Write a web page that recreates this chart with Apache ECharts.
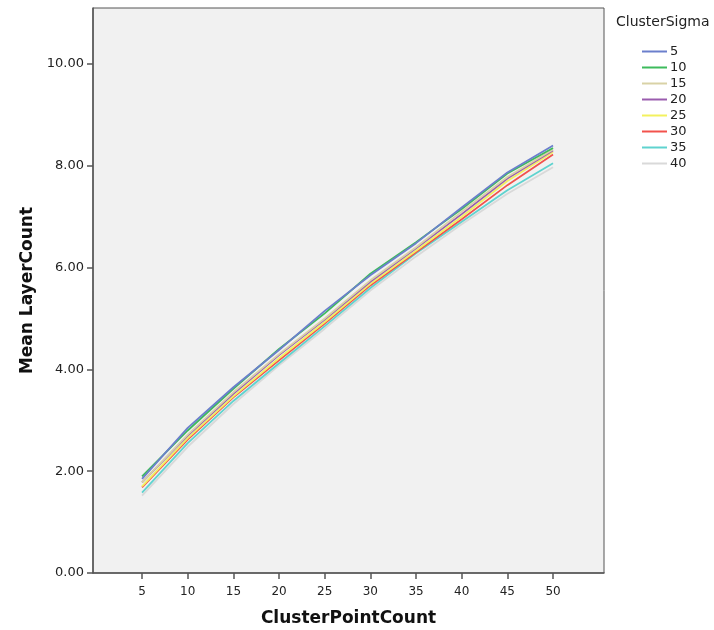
<!DOCTYPE html>
<html>
<head>
<meta charset="utf-8">
<script src="https://cdn.jsdelivr.net/npm/echarts@6/dist/echarts.min.js"></script>
<style>
html,body{margin:0;padding:0;background:#fff;}
#chart{width:714px;height:630px;}
</style>
</head>
<body>
<div id="chart"></div>
<script>
var pointCounts = [5, 10, 15, 20, 25, 30, 35, 40, 45, 50];
var sigmaNames = ['5', '10', '15', '20', '25', '30', '35', '40'];
var sigma5  = [1.85, 2.85, 3.65, 4.38, 5.15, 5.85, 6.48, 7.18, 7.87, 8.40];
var sigma10 = [1.90, 2.80, 3.62, 4.40, 5.10, 5.88, 6.50, 7.15, 7.85, 8.35];
var sigma15 = [1.78, 2.72, 3.55, 4.30, 5.00, 5.75, 6.40, 7.10, 7.78, 8.32];
var sigma20 = [1.78, 2.70, 3.52, 4.28, 4.98, 5.72, 6.38, 7.05, 7.75, 8.30];
var sigma25 = [1.70, 2.65, 3.47, 4.22, 4.93, 5.68, 6.33, 7.00, 7.70, 8.27];
var sigma30 = [1.68, 2.62, 3.45, 4.18, 4.90, 5.65, 6.30, 6.95, 7.62, 8.22];
var sigma35 = [1.58, 2.55, 3.38, 4.12, 4.85, 5.60, 6.28, 6.90, 7.52, 8.05];
var sigma40 = [1.52, 2.48, 3.32, 4.08, 4.80, 5.55, 6.22, 6.85, 7.45, 7.97];
var yTicks = [0, 2, 4, 6, 8, 10];

var seriesValues = [sigma5, sigma10, sigma15, sigma20, sigma25, sigma30, sigma35, sigma40];
var colors = ['#6b7fcc', '#3dbb5c', '#d9d2a6', '#9a5cae', '#f3f15e', '#f2524c', '#5fd3cf', '#d9d9d9'];

var chart = echarts.init(document.getElementById('chart'));
var font = 'DejaVu Sans';
var series = seriesValues.map(function (vals, i) {
  return {
    name: sigmaNames[i],
    type: 'line',
    data: pointCounts.map(function (x, j) { return [x, vals[j]]; }),
    showSymbol: false,
    symbol: 'none',
    lineStyle: { width: 1.8, color: colors[i] },
    itemStyle: { color: colors[i] },
    silent: true,
    z: 10 - i
  };
});

chart.setOption({
  animation: false,
  backgroundColor: '#ffffff',
  title: {
    text: 'ClusterSigma',
    left: 611, top: 10,
    textStyle: { fontFamily: font, fontSize: 14, fontWeight: 'normal', color: '#222' }
  },
  legend: {
    orient: 'vertical',
    left: 637, top: 40,
    icon: 'rect',
    itemWidth: 25, itemHeight: 2,
    itemGap: 3,
    textStyle: { fontFamily: font, fontSize: 13, color: '#222', padding: [0, 0, 0, -2] },
    data: sigmaNames
  },
  grid: {
    left: 93, right: 110, top: 8, bottom: 57,
    outerBoundsMode: 'none',
    containLabel: false,
    show: true,
    backgroundColor: '#f1f1f1',
    borderColor: '#555',
    borderWidth: 1
  },
  xAxis: {
    type: 'value',
    min: -0.37, max: 55.58,
    name: 'ClusterPointCount',
    nameLocation: 'middle',
    nameGap: 37,
    nameTextStyle: { fontFamily: font, fontSize: 17, fontWeight: 'bold', color: '#111' },
    axisLine: { show: true, lineStyle: { color: '#555', width: 1.5 } },
    axisTick: { show: true, customValues: pointCounts, length: 6, lineStyle: { color: '#555', width: 1.5 } },
    axisLabel: { customValues: pointCounts, fontFamily: font, fontSize: 12, color: '#222', margin: 13 },
    splitLine: { show: false }
  },
  yAxis: {
    type: 'value',
    min: 0, max: 11.1,
    name: 'Mean LayerCount',
    nameLocation: 'middle',
    nameGap: 53,
    nameTextStyle: { fontFamily: font, fontSize: 17, fontWeight: 'bold', color: '#111' },
    axisLine: { show: true, onZero: false, lineStyle: { color: '#555', width: 1.5 } },
    axisTick: { show: true, customValues: yTicks, length: 6, lineStyle: { color: '#555', width: 1.5 } },
    axisLabel: {
      customValues: yTicks,
      fontFamily: font, fontSize: 13, color: '#222', margin: 9,
      formatter: function (v) { return v.toFixed(2); }
    },
    splitLine: { show: false }
  },
  series: series
});
</script>
</body>
</html>
